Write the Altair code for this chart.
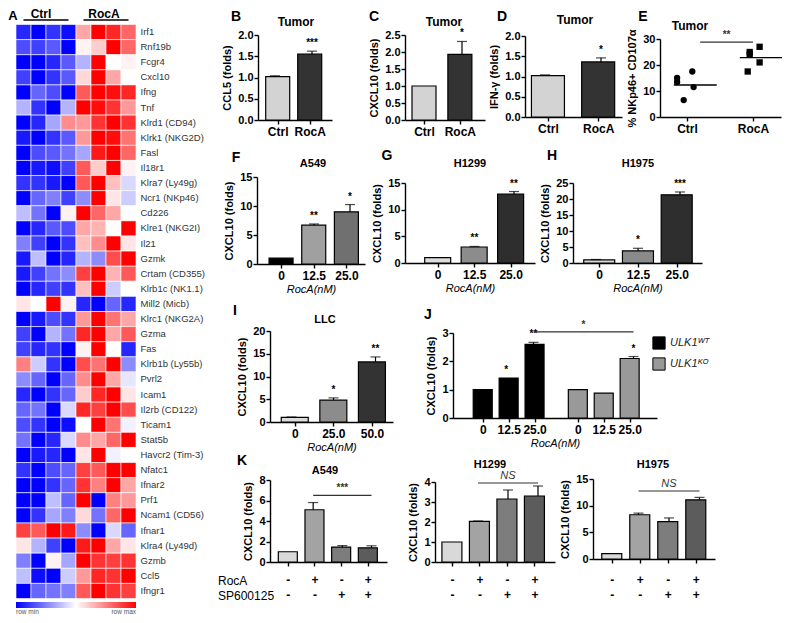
import altair as alt
import pandas as pd

FONT = "Liberation Sans"
W, H = 774, 610
OX, OY = 8, 8

# ---------------- data ----------------
samples = ["C1", "C2", "C3", "C4", "R1", "R2", "R3", "R4"]
genes = ["Irf1", "Rnf19b", "Fcgr4", "Cxcl10", "Ifng", "Tnf", "Klrd1 (CD94)", "Klrk1 (NKG2D)",
         "Fasl", "Il18r1", "Klra7 (Ly49g)", "Ncr1 (NKp46)", "Cd226", "Klre1 (NKG2I)", "Il21",
         "Gzmk", "Crtam (CD355)", "Klrb1c (NK1.1)", "Mill2 (Micb)", "Klrc1 (NKG2A)", "Gzma",
         "Fas", "Klrb1b (Ly55b)", "Pvrl2", "Icam1", "Il2rb (CD122)", "Ticam1", "Stat5b",
         "Havcr2 (Tim-3)", "Nfatc1", "Ifnar2", "Prf1", "Ncam1 (CD56)", "Ifnar1",
         "Klra4 (Ly49d)", "Gzmb", "Ccl5", "Ifngr1"]
heat_values = [
    [-0.85, -1.0, -0.8, -0.95, 0.35, 1.0, 0.85, 0.6],
    [-0.7, -0.75, -0.65, -1.0, 0.05, 0.2, 1.0, 0.6],
    [-1.0, -1.0, -0.85, -0.65, -0.3, 1.0, 0.0, 0.05],
    [-0.75, -1.0, -0.8, -0.65, 0.15, 1.0, 0.35, 0.0],
    [-1.0, -0.6, -0.7, -1.0, 0.65, 1.0, 0.95, 0.85],
    [-0.3, -0.8, -1.0, -0.3, 1.0, 0.95, 0.8, 0.4],
    [-1.0, -0.85, -0.35, 0.45, 0.4, 0.8, 1.0, 0.8],
    [-0.9, -1.0, -0.8, -0.65, 0.4, 1.0, 0.95, 0.55],
    [-1.0, -0.7, -0.65, -0.55, -0.35, 0.9, 1.0, 0.6],
    [-1.0, -0.9, -0.95, -0.75, 0.65, 0.2, 1.0, 0.05],
    [-0.8, -0.8, -0.9, -1.0, 0.65, 1.0, 0.25, -0.15],
    [-1.0, -0.6, -0.5, -0.75, -0.45, 1.0, 0.1, -0.2],
    [-0.25, -0.55, -1.0, 0.05, 1.0, 0.6, 0.35, 0.0],
    [-1.0, -0.85, -0.65, -0.7, 0.35, 0.3, 0.0, 1.0],
    [-0.5, -0.75, -1.0, -0.8, 0.25, 0.45, 1.0, 0.1],
    [-0.9, -0.25, -1.0, -0.85, -0.3, -0.45, 0.7, 1.0],
    [-0.9, -0.75, -0.55, -0.45, 0.75, 1.0, 0.3, 0.65],
    [-1.0, -0.85, -0.75, -0.8, 0.25, 1.0, -0.2, 0.0],
    [0.1, 0.0, 1.0, 0.05, -0.85, -1.0, -0.6, -0.85],
    [-1.0, -0.9, -0.7, -0.8, 0.4, 1.0, 0.55, 0.35],
    [-0.75, -1.0, -0.3, -0.55, 0.85, 1.0, 0.35, 0.65],
    [-0.75, -0.85, -0.8, -1.0, 0.05, 1.0, 0.0, -0.85],
    [0.5, -0.2, -0.8, -1.0, 0.7, 0.55, 1.0, -0.45],
    [-0.45, -0.6, -1.0, -0.6, 0.45, 1.0, 0.35, -0.1],
    [-0.85, -1.0, -0.8, -0.6, 0.2, 0.85, 1.0, 0.1],
    [-0.6, -0.55, -1.0, -0.15, 0.85, 0.75, 1.0, 0.7],
    [-0.7, -0.8, -1.0, -0.95, 0.0, 1.0, 0.55, -0.05],
    [-0.55, -1.0, -0.85, -0.15, 0.45, 0.35, 0.6, 1.0],
    [-1.0, -0.9, -0.85, -1.0, 0.1, 1.0, -0.05, 0.0],
    [-0.8, -1.0, -0.7, -0.6, 0.75, 0.65, 1.0, 1.0],
    [-1.0, -1.0, -0.8, -0.6, 0.8, 0.5, 1.0, 0.35],
    [-1.0, -1.0, -0.25, -0.6, 1.0, -1.0, 0.5, 0.4],
    [-1.0, -0.8, -0.35, -0.5, 0.15, -0.55, 0.6, 1.0],
    [0.75, 0.65, 1.0, 0.9, -0.45, -1.0, -0.15, -0.6],
    [0.1, -0.3, -0.75, -1.0, 0.9, 1.0, 0.35, 0.1],
    [-0.5, -1.0, 0.05, -0.35, 1.0, 0.8, 0.75, 0.8],
    [-0.25, -0.95, -1.0, -0.2, 0.4, 0.85, 0.8, 1.0],
    [-1.0, -0.6, -0.55, -0.5, 0.65, 1.0, 0.8, 0.75],
]

tumor_groups = ["Ctrl", "RocA"]
ccl5_mean, ccl5_err, ccl5_sig = [1.02, 1.55], [0.02, 0.07], ["", "***"]
cxcl10_t_mean, cxcl10_t_err, cxcl10_t_sig = [1.0, 1.93], [0.0, 0.38], ["", "*"]
ifng_mean, ifng_err, ifng_sig = [1.02, 1.36], [0.02, 0.1], ["", "*"]

e_ctrl = [17.5, 15.0, 13.5, 11.5, 6.5]
e_roca = [27.0, 25.0, 24.0, 21.0, 17.5]
e_means = [12.3, 22.8]

doses = ["0", "12.5", "25.0"]
a549_mean, a549_err, a549_sig = [1.0, 6.7, 9.0], [0.0, 0.2, 1.25], ["", "**", "*"]
h1299_mean, h1299_err, h1299_sig = [1.0, 3.0, 12.9], [0.0, 0.1, 0.5], ["", "**", "**"]
h1975_mean, h1975_err, h1975_sig = [1.0, 3.8, 21.3], [0.1, 0.8, 0.9], ["", "*", "***"]
llc_doses = ["0", "25.0", "50.0"]
llc_mean, llc_err, llc_sig = [1.0, 4.8, 13.2], [0.1, 0.5, 1.1], ["", "*", "**"]

j_doses = ["0", "12.5", "25.0", "0", "12.5", "25.0"]
j_groups = ["ULK1\u1d42\u1d40"] * 3 + ["ULK1\u1d37\u1d3c"] * 3
j_mean = [1.0, 1.41, 2.6, 1.0, 0.88, 2.1]
j_err = [0.0, 0.0, 0.07, 0.0, 0.0, 0.07]
j_sig = ["", "*", "**", "", "", "*"]

k_roca = ["-", "+", "-", "+"]
k_sp = ["-", "-", "+", "+"]
k_a549_mean, k_a549_err = [1.0, 5.1, 1.45, 1.38], [0.0, 0.7, 0.15, 0.2]
k_h1299_mean, k_h1299_err = [1.0, 2.03, 3.15, 3.3], [0.0, 0.02, 0.45, 0.5]
k_h1975_mean, k_h1975_err = [1.0, 8.3, 7.0, 11.1], [0.0, 0.3, 0.7, 0.45]

# ---------------- helpers ----------------
layers = []


def txt(s, x, y, size=11, weight="bold", align="center", style="normal", color="black", baseline="middle"):
    return alt.Chart(pd.DataFrame({"t": [s]})).mark_text(
        text=s, font=FONT, fontSize=size, fontWeight=weight, fontStyle=style,
        align=align, baseline=baseline, color=color
    ).encode(x=alt.value(x - OX), y=alt.value(y - OY))


AX = dict(domainColor="black", domainWidth=1.4, tickColor="black", tickWidth=1.4, tickSize=4,
          labelFont=FONT, labelColor="black", labelFontWeight="bold",
          titleFont=FONT, titleColor="black", titleFontSize=11, grid=False,
          labelOverlap=False, labelFlush=False, labelBound=False)


def yaxis(x0, vals, fmt, title):
    return alt.Axis(orient="left", offset=-(x0 - OX), values=vals, format=fmt, title=title,
                    labelPadding=1, labelFontSize=11, titleFontWeight="bold", titlePadding=5, **AX)


def lab_expr(pos, labs):
    parts = []
    for p, l in zip(pos, labs):
        if isinstance(l, (list, tuple)):
            lit = "[" + ",".join("'%s'" % s for s in l) + "]"
        else:
            lit = "'%s'" % l
        parts.append("abs(datum.value - (%r)) < 0.01 ? %s" % (p, lit))
    return " : ".join(parts) + " : ''"


def xaxis(ybot, pos, labs, title=None, pad=2, size=12):
    return alt.Axis(orient="bottom", offset=(ybot - OY) - H, values=pos, labelExpr=lab_expr(pos, labs),
                    title=title, labelPadding=pad, labelFontSize=size, labelAngle=0, labelLineHeight=15,
                    titleFontStyle="italic", titleFontWeight="normal", titlePadding=2, **AX)


def scales(box, pos, ymax):
    x0, x1, ytop, ybot, cf, cl = box
    k = (cl - cf) / (pos[-1] - pos[0])
    d0 = pos[0] - (cf - x0) / k
    d1 = pos[0] + (x1 - cf) / k
    xs = alt.Scale(domain=[d0, d1], range=[x0 - OX, x1 - OX], nice=False, zero=False)
    ys = alt.Scale(domain=[0, ymax], range=[ybot - OY, ytop - OY], nice=False, zero=False)
    return xs, ys


def brackets_of(xs, ys, brackets):
    out = []
    for (xa, xb, yv, t, italic) in brackets:
        bdf = pd.DataFrame({"xa": [xa], "xb": [xb], "y": [yv], "xm": [(xa + xb) / 2], "t": [t]})
        bb = alt.Chart(bdf)
        out.append(bb.mark_rule(strokeWidth=1.2, color="#333333").encode(
            x=alt.X("xa:Q", scale=xs, axis=None), x2="xb:Q", y=alt.Y("y:Q", scale=ys, axis=None)))
        out.append(bb.mark_text(baseline="bottom", dy=-2, fontSize=11 if italic else 10,
                                fontWeight="normal" if italic else "bold",
                                fontStyle="italic" if italic else "normal", font=FONT,
                                color="#333333").encode(
            x=alt.X("xm:Q", scale=xs, axis=None), y=alt.Y("y:Q", scale=ys, axis=None), text="t:N"))
    return out


def bar_panel(name, labels, means, errs, sigs, colors, box, ymax, ystep, yfmt, ytitle, bar_w,
              pos=None, xtitle=None, groups=None, legend=None, pad=2, xsize=12, brackets=(), cap=10):
    x0, x1, ytop, ybot, cf, cl = box
    n = len(means)
    pos = pos if pos is not None else list(range(n))
    xs, ys = scales(box, pos, ymax)
    keys = groups if groups else ["%s%d" % (name, i) for i in range(n)]
    df = pd.DataFrame({"pos": pos, "mean": means, "err": errs, "sig": sigs, "key": keys})
    df["top"] = df["mean"] + df["err"]
    base = alt.Chart(df)
    nticks = int(round(ymax / ystep))
    yvals = [round(i * ystep, 3) for i in range(nticks + 1)]
    Xn = alt.X("pos:Q", scale=xs, axis=None)
    bars = base.mark_bar(size=bar_w, stroke="black", strokeWidth=1.2, orient="vertical").encode(
        x=alt.X("pos:Q", scale=xs, axis=xaxis(ybot, pos, labels, xtitle, pad, xsize)),
        y=alt.Y("mean:Q", scale=ys, axis=yaxis(x0, yvals, yfmt, ytitle)),
        fill=alt.Fill("key:N", scale=alt.Scale(domain=list(dict.fromkeys(keys)), range=colors),
                      legend=legend),
    )
    err = base.transform_filter("datum.err > 0").mark_rule(strokeWidth=1.2, color="black").encode(
        x=Xn, y=alt.Y("mean:Q", scale=ys, axis=None), y2="top:Q")
    capm = base.transform_filter("datum.err > 0").mark_tick(
        orient="horizontal", size=cap, thickness=1.2, color="black").encode(
        x=Xn, y=alt.Y("top:Q", scale=ys, axis=None))
    sig = base.mark_text(baseline="bottom", dy=-3, fontSize=10, fontWeight="bold", font=FONT,
                         color="black").encode(x=Xn, y=alt.Y("top:Q", scale=ys, axis=None), text="sig:N")
    return [bars, err, capm, sig] + brackets_of(xs, ys, brackets)


# ---------------- A: heatmap ----------------
hm_df = pd.DataFrame([{"gene": g, "sample": s, "z": v}
                      for g, row in zip(genes, heat_values) for s, v in zip(samples, row)])
hx = alt.Scale(domain=samples, range=[16 - OX, 136 - OX], paddingInner=0, paddingOuter=0)
hy = alt.Scale(domain=genes, range=[24.5 - OY, 598.5 - OY], paddingInner=0, paddingOuter=0)
heat = alt.Chart(hm_df).mark_rect(stroke="white", strokeWidth=0.6).encode(
    x=alt.X("sample:N", scale=hx, axis=None),
    y=alt.Y("gene:N", scale=hy, axis=alt.Axis(
        orient="right", offset=(136 - OX) - W, domain=False, ticks=False, labelPadding=4,
        labelFont=FONT, labelFontSize=9.5, labelColor="#333333", title=None,
        labelOverlap=False, labelBound=False, grid=False)),
    color=alt.Color("z:Q", scale=alt.Scale(domain=[-1, 0, 1], range=["#0000ff", "#ffffff", "#ff0000"],
                                           interpolate="rgb"),
                    legend=alt.Legend(orient="none", legendX=16 - OX, legendY=602 - OY,
                                      direction="horizontal", gradientLength=120, gradientThickness=6,
                                      title=None, values=[-1, 1],
                                      labelExpr="datum.value < 0 ? 'row min' : 'row max'",
                                      labelFont=FONT, labelFontSize=6.5, labelColor="#555555",
                                      labelOffset=1, gradientStrokeWidth=0)),
)
hdr_df = pd.DataFrame({"grp": tumor_groups, "a": ["C1", "R1"], "b": ["C4", "R4"]})
hdr = alt.Chart(hdr_df).mark_rule(strokeWidth=1.5, color="black").encode(
    x=alt.X("a:N", scale=hx, axis=None), x2="b:N", y=alt.value(20 - OY))
layers += [heat, hdr, txt("A", 13, 16, size=13), txt("Ctrl", 41, 14, size=12),
           txt("RocA", 104, 14, size=12)]

# ---------------- B, C, D ----------------
TC = ["#d3d3d3", "#333333"]
layers += bar_panel("b", tumor_groups, ccl5_mean, ccl5_err, ccl5_sig, TC, (258, 332, 35, 120, 275, 312),
                    2.0, 0.5, ".1f", "CCL5 (folds)", 24)
layers += [txt("B", 236, 17, size=14), txt("Tumor", 296, 22, size=12)]
layers += bar_panel("c", tumor_groups, cxcl10_t_mean, cxcl10_t_err, cxcl10_t_sig, TC,
                    (405, 485, 35, 120, 421, 462), 2.5, 0.5, ".1f", "CXCL10 (folds)", 24)
layers += [txt("C", 374, 17, size=14), txt("Tumor", 444, 22, size=12)]
layers += bar_panel("d", tumor_groups, ifng_mean, ifng_err, ifng_sig, TC, (525, 622, 36, 117, 545, 601),
                    2.0, 0.5, ".1f", "IFN-\u03b3 (folds)", 33)
layers += [txt("D", 502, 17, size=14), txt("Tumor", 575, 20, size=12)]

# ---------------- E: scatter ----------------
e_jit = [[0.08, -0.15, -0.15, 0.1, -0.05], [0.1, -0.05, -0.05, 0.1, -0.08]]
e_rows = []
for gi, (g, vals) in enumerate(zip(tumor_groups, [e_ctrl, e_roca])):
    for v, j in zip(vals, e_jit[gi]):
        e_rows.append({"group": g, "xp": gi + j, "value": v})
e_df = pd.DataFrame(e_rows)
ebox = (660, 781, 39, 117, 687, 753)
exs, eys = scales(ebox, [0, 1], 30)
e_pts = alt.Chart(e_df).mark_point(filled=True, size=40, color="black", opacity=1).encode(
    x=alt.X("xp:Q", scale=exs, axis=xaxis(117, [0, 1], tumor_groups)),
    y=alt.Y("value:Q", scale=eys, axis=yaxis(660, [0, 10, 20, 30], "d", "% NKp46+ CD107\u03b1")),
    shape=alt.Shape("group:N", scale=alt.Scale(domain=tumor_groups, range=["circle", "square"]),
                    legend=None),
)
m_df = pd.DataFrame({"group": tumor_groups, "mean": e_means,
                     "xa": [i - 0.2 for i in range(2)], "xb": [i + 0.45 for i in range(2)]})
e_mean = alt.Chart(m_df).mark_rule(strokeWidth=1.3, color="black").encode(
    x=alt.X("xa:Q", scale=exs, axis=None), x2="xb:Q", y=alt.Y("mean:Q", scale=eys, axis=None))
layers += [e_pts, e_mean] + brackets_of(exs, eys, [(0.2, 1.0, 28.8, "**", False)])
layers += [txt("E", 643, 17, size=14), txt("Tumor", 690, 26, size=12)]

# ---------------- F, G, H ----------------
layers += bar_panel("f", doses, a549_mean, a549_err, a549_sig, ["#000000", "#a0a0a0", "#707070"],
                    (257, 365, 177, 264, 278, 350), 15, 5, "d", "CXCL10 (folds)", 24, xtitle="RocA(nM)")
layers += [txt("F", 236, 158, size=14), txt("A549", 313, 164, size=11)]
layers += bar_panel("g", doses, h1299_mean, h1299_err, h1299_sig, ["#dddddd", "#8c8c8c", "#2e2e2e"],
                    (405, 535, 183, 263, 435, 514), 15, 5, "d", "CXCL10 (folds)", 26, xtitle="RocA(nM)")
layers += [txt("G", 387, 156, size=14), txt("H1299", 470, 164, size=11)]
layers += bar_panel("h", doses, h1975_mean, h1975_err, h1975_sig, ["#d9d9d9", "#8a8a8a", "#2e2e2e"],
                    (573, 702, 183, 263, 596, 680), 25, 5, "d", "CXCL10 (folds)", 31, xtitle="RocA(nM)")
layers += [txt("H", 552, 156, size=14), txt("H1975", 638, 164, size=11)]

# ---------------- I, J ----------------
j_pos = [0, 1, 2, 3.67, 4.67, 5.67]
layers += bar_panel("i", llc_doses, llc_mean, llc_err, llc_sig, ["#dcdcdc", "#8c8c8c", "#333333"],
                    (270, 393, 331, 422, 291.5, 375.5), 20, 5, "d", "CXCL10 (folds)", 27,
                    xtitle="RocA(nM)")
layers += [txt("I", 235, 311, size=14), txt("LLC", 325, 320, size=11)]
layers += bar_panel("j", j_doses, j_mean, j_err, j_sig, ["#000000", "#999999"],
                    (453, 657, 333, 418, 479, 633.5), 3, 1, "d", "CXCL10 (folds)", 19, pos=j_pos,
                    xtitle="RocA(nM)", groups=j_groups,
                    legend=alt.Legend(orient="none", legendX=652 - OX, legendY=336 - OY, title=None,
                                      symbolType="square", symbolSize=150, symbolStrokeColor="black",
                                      symbolStrokeWidth=1, labelFont=FONT, labelFontSize=11,
                                      labelFontStyle="italic", labelColor="#222222", rowPadding=3),
                    brackets=[(2, 5.67, 3.04, "*", False)])
layers += [txt("J", 428, 315, size=14)]

# ---------------- K ----------------
k_labels = [[r, s] for r, s in zip(k_roca, k_sp)]
KC = ["#d9d9d9", "#a3a3a3", "#7d7d7d", "#5c5c5c"]
layers += bar_panel("k1", k_labels, k_a549_mean, k_a549_err, [""] * 4, KC, (270, 387, 480, 562, 284, 371.5),
                    8, 2, "d", "CXCL10 (folds)", 19, pad=574 - 566, brackets=[(1, 3, 6.5, "***", False)])
layers += [txt("K", 242, 461, size=14), txt("A549", 325, 471, size=11)]
layers += bar_panel("k2", k_labels, k_h1299_mean, k_h1299_err, [""] * 4, KC, (435, 555, 482, 562, 448, 538),
                    4, 1, "d", "CXCL10 (folds)", 20, pad=574 - 566, brackets=[(1, 3, 3.95, "NS", True)])
layers += [txt("H1299", 490, 465, size=11)]
layers += bar_panel("k3", k_labels, k_h1975_mean, k_h1975_err, [""] * 4, KC, (593, 715, 479, 559, 608, 699.5),
                    15, 5, "d", "CXCL10 (folds)", 20, pad=574 - 563, brackets=[(1, 3, 12.75, "NS", True)])
layers += [txt("H1975", 653, 465, size=11),
           txt("RocA", 218, 581, size=12, weight="normal", align="left"),
           txt("SP600125", 218, 596, size=12, weight="normal", align="left")]

chart = alt.layer(*layers).resolve_scale(
    x="independent", y="independent", color="independent", fill="independent", shape="independent"
).properties(
    width=W, height=H, padding=0, autosize=alt.AutoSizeParams(type="none")
).configure_view(stroke=None)

chart.save("out.html", embed_options={"renderer": "svg", "actions": False})
